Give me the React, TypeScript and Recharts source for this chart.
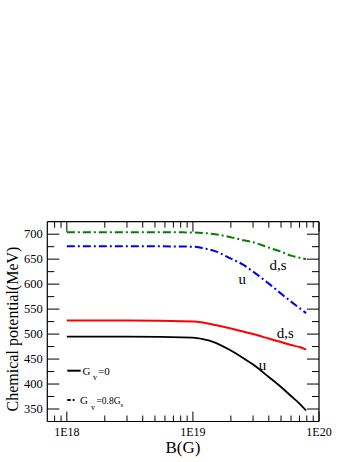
import React from 'react';
import { LineChart, Line, XAxis, YAxis, Legend, ReferenceDot, Label } from 'recharts';

// magnetic field B (G) at which the curves were read
const fieldB = [1e18, 3e18, 1e19, 1.2e19, 1.5e19, 2e19, 2.5e19, 3e19, 4e19, 5e19, 6e19, 7e19, 7.9e19];
// chemical potentials (MeV)
const muU0 = [495, 495, 493, 490, 483, 467, 452, 439, 414, 394, 376, 361, 347];
const muDs0 = [527, 527, 525, 523, 518, 511, 505, 500, 491, 484, 478, 474, 469];
const muU08 = [676, 676, 675, 672, 666, 651, 639, 625, 601, 581, 565, 552, 542];
const muDs08 = [704, 704, 703.5, 702.5, 700, 694, 688, 684, 673, 665, 657, 653, 650];

const xMajorTicks = [1e18, 1e19, 1e20];
const xMajorLabels = ['1E18', '1E19', '1E20'];
const xMinorTicks = [
  8e17, 9e17,
  2e18, 3e18, 4e18, 5e18, 6e18, 7e18, 8e18, 9e18,
  2e19, 3e19, 4e19, 5e19, 6e19, 7e19, 8e19, 9e19,
];
const yMajorTicks = [350, 400, 450, 500, 550, 600, 650, 700];
const yMinorTicks = [375, 425, 475, 525, 575, 625, 675];

const curveNotes = [
  { b: 4.74e19, mu: 639, text: 'd,s' },
  { b: 2.46e19, mu: 610, text: 'u' },
  { b: 5.4e19, mu: 503, text: 'd,s' },
  { b: 3.56e19, mu: 439, text: 'u' },
];

const data = fieldB.map((b, i) => ({
  b,
  u0: muU0[i],
  ds0: muDs0[i],
  u08: muU08[i],
  ds08: muDs08[i],
}));

const serif = '"Liberation Serif", "DejaVu Serif", serif';
const xTicks = [...xMinorTicks, ...xMajorTicks].sort((a, b) => a - b);
const yTicks = [...yMinorTicks, ...yMajorTicks].sort((a, b) => a - b);

const isMajorX = (v: number) => xMajorTicks.includes(v);
const isMajorY = (v: number) => yMajorTicks.includes(v);

const BottomTick = (props: any) => {
  const { x, y, payload } = props;
  const major = isMajorX(payload.value);
  return (
    <g>
      <line x1={x} x2={x} y1={y} y2={y - (major ? 10 : 6)} stroke="#000" strokeWidth={1} />
      {major && (
        <text x={x} y={y + 14} textAnchor="middle" fontSize={12} fontFamily={serif} fill="#000">
          {xMajorLabels[xMajorTicks.indexOf(payload.value)]}
        </text>
      )}
    </g>
  );
};

const TopTick = (props: any) => {
  const { x, y, payload } = props;
  const major = isMajorX(payload.value);
  return <line x1={x} x2={x} y1={y} y2={y + (major ? 10 : 6)} stroke="#000" strokeWidth={1} />;
};

const LeftTick = (props: any) => {
  const { x, y, payload } = props;
  const major = isMajorY(payload.value);
  return (
    <g>
      <line x1={x} x2={x + (major ? 12 : 7)} y1={y} y2={y} stroke="#000" strokeWidth={1} />
      {major && (
        <text x={x - 4.5} y={y + 4} textAnchor="end" fontSize={12.5} fontFamily={serif} fill="#000">
          {payload.value}
        </text>
      )}
    </g>
  );
};

const RightTick = (props: any) => {
  const { x, y, payload } = props;
  const major = isMajorY(payload.value);
  return <line x1={x} x2={x - (major ? 12 : 7)} y1={y} y2={y} stroke="#000" strokeWidth={1} />;
};

const StyleLegend = () => (
  <svg width={110} height={56} style={{ display: 'block' }}>
    <g transform="translate(-60,-360)" fontFamily={serif} fill="#000">
      <line x1={67.3} x2={80.7} y1={370.7} y2={370.7} stroke="#000" strokeWidth={2} />
      <text x={82.5} y={374.5} fontSize={11}>G</text>
      <text x={93} y={380} fontSize={8}>v</text>
      <text x={98} y={374.5} fontSize={11}>=0</text>

      <line x1={67.3} x2={70.7} y1={400} y2={400} stroke="#000" strokeWidth={2} />
      <line x1={72.7} x2={74.5} y1={400} y2={400} stroke="#000" strokeWidth={2} />
      <text x={80} y={404} fontSize={11}>G</text>
      <text x={91} y={409.5} fontSize={8}>v</text>
      <text x={96.5} y={404} fontSize={9.5}>
        =0.8G<tspan dy={3} fontSize={7}>s</tspan>
      </text>
    </g>
  </svg>
);

export default function App() {
  return (
    <div style={{ position: 'absolute', left: 0, top: 0, width: 357, height: 462, background: '#fff' }}>
      <LineChart width={357} height={462} data={data} margin={{ top: 211.7, right: 28, bottom: 10.5, left: 0 }}>
        <XAxis
          dataKey="b"
          type="number"
          scale="log"
          domain={[7e17, 1e20]}
          allowDataOverflow
          ticks={xTicks}
          interval={0}
          tick={BottomTick}
          tickLine={false}
          tickSize={0}
          tickMargin={0}
          axisLine={{ stroke: '#000', strokeWidth: 1.2 }}
          height={30}
        >
          <Label
            content={() => (
              <text x={183} y={452.5} textAnchor="middle" fontSize={17} fontFamily={serif} fill="#000">
                B(G)
              </text>
            )}
          />
        </XAxis>
        <XAxis
          xAxisId="top"
          orientation="top"
          dataKey="b"
          type="number"
          scale="log"
          domain={[7e17, 1e20]}
          allowDataOverflow
          ticks={xTicks}
          interval={0}
          tick={TopTick}
          tickLine={false}
          tickSize={0}
          tickMargin={0}
          axisLine={{ stroke: '#000', strokeWidth: 1.2 }}
          height={10}
        />
        <YAxis
          type="number"
          domain={[325, 725]}
          allowDataOverflow
          ticks={yTicks}
          interval={0}
          tick={LeftTick}
          tickLine={false}
          tickSize={0}
          tickMargin={0}
          axisLine={{ stroke: '#000', strokeWidth: 1.2 }}
          width={47.3}
        >
          <Label
            content={() => (
              <text
                x={12}
                y={329}
                transform="rotate(-90, 12, 329)"
                textAnchor="middle"
                dominantBaseline="central"
                fontSize={16}
                fontFamily={serif}
                fill="#000"
              >
                Chemical potential(MeV)
              </text>
            )}
          />
        </YAxis>
        <YAxis
          yAxisId="right"
          orientation="right"
          type="number"
          domain={[325, 725]}
          allowDataOverflow
          ticks={yTicks}
          interval={0}
          tick={RightTick}
          tickLine={false}
          tickSize={0}
          tickMargin={0}
          axisLine={{ stroke: '#000', strokeWidth: 1.2 }}
          width={10}
        />
        <Legend
          layout="horizontal"
          verticalAlign="middle"
          align="center"
          content={StyleLegend}
          wrapperStyle={{ left: 60, top: 360, width: 110, height: 56 }}
        />
        <Line dataKey="u0" type="monotone" stroke="#000" strokeWidth={1.8} dot={false} isAnimationActive={false} />
        <Line dataKey="ds0" type="monotone" stroke="#ff0000" strokeWidth={2} dot={false} isAnimationActive={false} />
        <Line
          dataKey="u08"
          type="monotone"
          stroke="#0000ff"
          strokeWidth={2}
          strokeDasharray="8 3 2 3"
          dot={false}
          isAnimationActive={false}
        />
        <Line
          dataKey="ds08"
          type="monotone"
          stroke="#008000"
          strokeWidth={2}
          strokeDasharray="8 3 2 3"
          dot={false}
          isAnimationActive={false}
        />
        {curveNotes.map((n, i) => (
          <ReferenceDot
            key={i}
            x={n.b}
            y={n.mu}
            r={0}
            fill="none"
            stroke="none"
            label={{ value: n.text, position: 'center', fontSize: 15, fill: '#000', fontFamily: serif }}
          />
        ))}
      </LineChart>
    </div>
  );
}
